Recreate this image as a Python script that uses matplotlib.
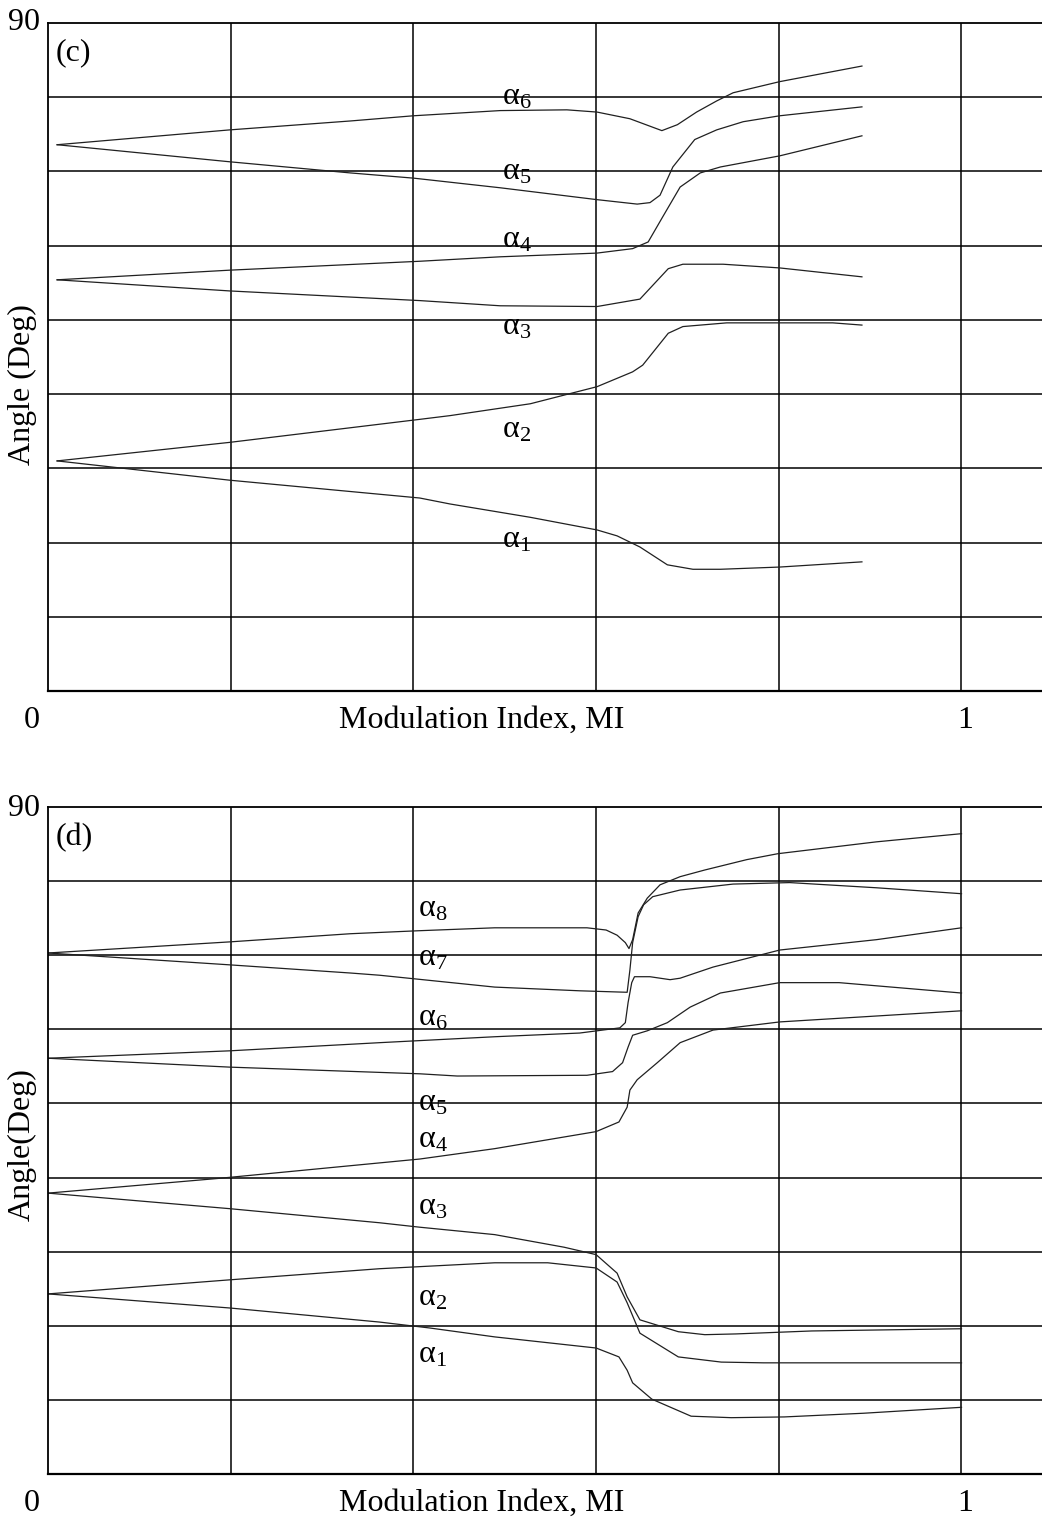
import matplotlib
matplotlib.use("Agg")
import matplotlib.pyplot as plt

plt.rcParams['font.family'] = ['Liberation Serif', 'DejaVu Serif']
plt.rcParams['mathtext.fontset'] = 'custom'
plt.rcParams['mathtext.rm'] = 'Liberation Serif'
plt.rcParams['mathtext.it'] = 'Liberation Serif'

# ---- panel (c): six switching angles vs modulation index ----
c_a6_x = [0.010, 0.199, 0.331, 0.400, 0.495, 0.568, 0.601, 0.637, 0.672, 0.689, 0.710, 0.732, 0.750, 0.801, 0.891]
c_a6_y = [73.6, 75.6, 76.8, 77.5, 78.2, 78.3, 78.0, 77.1, 75.5, 76.3, 78.0, 79.5, 80.6, 82.1, 84.2]
c_a5_x = [0.010, 0.199, 0.331, 0.400, 0.495, 0.601, 0.645, 0.659, 0.670, 0.684, 0.708, 0.732, 0.761, 0.801, 0.891]
c_a5_y = [73.6, 71.3, 69.8, 69.1, 67.8, 66.2, 65.6, 65.8, 66.8, 70.6, 74.3, 75.6, 76.7, 77.5, 78.7]
c_a4_x = [0.010, 0.199, 0.407, 0.495, 0.601, 0.640, 0.657, 0.673, 0.692, 0.714, 0.736, 0.801, 0.891]
c_a4_y = [55.4, 56.7, 57.9, 58.5, 59.0, 59.6, 60.5, 63.9, 67.9, 69.8, 70.6, 72.1, 74.8]
c_a3_x = [0.010, 0.199, 0.407, 0.495, 0.601, 0.648, 0.679, 0.695, 0.739, 0.801, 0.891]
c_a3_y = [55.4, 53.9, 52.6, 51.9, 51.8, 52.8, 56.9, 57.5, 57.5, 57.0, 55.8]
c_a2_x = [0.010, 0.199, 0.407, 0.440, 0.528, 0.601, 0.640, 0.651, 0.679, 0.695, 0.743, 0.859, 0.891]
c_a2_y = [31.0, 33.5, 36.6, 37.1, 38.7, 41.0, 43.0, 43.9, 48.2, 49.1, 49.6, 49.6, 49.3]
c_a1_x = [0.010, 0.199, 0.407, 0.440, 0.528, 0.601, 0.623, 0.648, 0.678, 0.706, 0.736, 0.801, 0.891]
c_a1_y = [31.0, 28.4, 26.0, 25.2, 23.4, 21.7, 20.9, 19.4, 17.0, 16.4, 16.4, 16.7, 17.4]

c_labels = ['6', '5', '4', '3', '2', '1']
c_label_y = [79.0, 68.9, 59.7, 48.0, 34.1, 19.4]

# ---- panel (d): eight switching angles vs modulation index ----
d_a8_x = [0.0, 0.199, 0.331, 0.405, 0.489, 0.590, 0.611, 0.623, 0.632, 0.636, 0.640, 0.646, 0.656, 0.670, 0.692, 0.719, 0.765, 0.799, 0.907, 1.0]
d_a8_y = [70.3, 71.8, 72.9, 73.3, 73.7, 73.7, 73.4, 72.7, 71.7, 70.9, 72.1, 75.7, 77.7, 79.5, 80.6, 81.5, 82.9, 83.7, 85.3, 86.4]
d_a7_x = [0.0, 0.199, 0.331, 0.363, 0.489, 0.582, 0.634, 0.637, 0.640, 0.646, 0.652, 0.662, 0.692, 0.750, 0.812, 0.907, 1.0]
d_a7_y = [70.3, 68.7, 67.6, 67.3, 65.7, 65.2, 65.0, 68.0, 71.7, 75.2, 76.8, 77.9, 78.8, 79.6, 79.8, 79.1, 78.3]
d_a6_x = [0.0, 0.199, 0.363, 0.489, 0.582, 0.626, 0.632, 0.635, 0.639, 0.642, 0.659, 0.681, 0.692, 0.728, 0.801, 0.907, 1.0]
d_a6_y = [56.1, 57.1, 58.2, 59.0, 59.5, 60.2, 60.9, 63.6, 66.3, 67.1, 67.1, 66.7, 66.9, 68.4, 70.7, 72.1, 73.7]
d_a5_x = [0.0, 0.199, 0.407, 0.448, 0.590, 0.618, 0.629, 0.635, 0.640, 0.656, 0.678, 0.703, 0.736, 0.801, 0.866, 1.0]
d_a5_y = [56.1, 54.9, 54.0, 53.7, 53.8, 54.3, 55.5, 57.6, 59.2, 59.8, 60.9, 63.0, 64.9, 66.3, 66.3, 64.9]
d_a4_x = [0.0, 0.188, 0.407, 0.489, 0.600, 0.625, 0.634, 0.637, 0.645, 0.667, 0.692, 0.728, 0.801, 1.0]
d_a4_y = [37.9, 39.9, 42.5, 43.9, 46.2, 47.5, 49.5, 51.8, 53.2, 55.5, 58.2, 59.9, 61.0, 62.5]
d_a3_x = [0.0, 0.199, 0.363, 0.407, 0.489, 0.565, 0.600, 0.623, 0.634, 0.648, 0.690, 0.719, 0.753, 0.836, 1.0]
d_a3_y = [37.9, 35.8, 33.9, 33.3, 32.3, 30.6, 29.6, 27.1, 23.9, 20.8, 19.2, 18.8, 18.9, 19.3, 19.6]
d_a2_x = [0.0, 0.199, 0.363, 0.489, 0.547, 0.600, 0.623, 0.634, 0.648, 0.690, 0.737, 0.783, 1.0]
d_a2_y = [24.3, 26.2, 27.7, 28.5, 28.5, 27.8, 25.9, 23.1, 19.0, 15.8, 15.1, 15.0, 15.0]
d_a1_x = [0.0, 0.199, 0.363, 0.418, 0.489, 0.600, 0.625, 0.634, 0.640, 0.661, 0.704, 0.748, 0.806, 0.893, 1.0]
d_a1_y = [24.3, 22.4, 20.5, 19.7, 18.5, 17.0, 15.8, 14.0, 12.3, 10.1, 7.8, 7.6, 7.7, 8.2, 9.0]

d_labels = ['8', '7', '6', '5', '4', '3', '2', '1']
d_label_y = [75.2, 68.6, 60.5, 49.0, 44.0, 35.0, 22.8, 15.0]

x_grid = [0.2, 0.4, 0.6, 0.8, 1.0]
y_grid = [10, 20, 30, 40, 50, 60, 70, 80]

FS = 23
W, H = 1042, 1517
fig = plt.figure(figsize=(W / 100, H / 100), dpi=100)

left = 48 / W
ax_c = fig.add_axes([left, 1 - 691 / H, 1 - left, 668 / H])
ax_d = fig.add_axes([left, 1 - 1474 / H, 1 - left, 667 / H])


def setup(ax):
    ax.set_xlim(0, (W - 48) / 913.5)
    ax.set_ylim(0, 90)
    ax.set_xticks(x_grid)
    ax.set_yticks(y_grid)
    ax.tick_params(length=0, labelbottom=False, labelleft=False)
    ax.grid(True, color='black', linewidth=1.1)
    ax.spines['right'].set_visible(False)
    ax.spines['left'].set_linewidth(1.3)
    ax.spines['top'].set_linewidth(1.3)
    ax.spines['bottom'].set_linewidth(1.6)
    ax.set_axisbelow(True)
    # tick numbers and x-axis title sit on one row below the axis
    tr = ax.get_xaxis_transform()
    ax.text(-0.018, -0.044, '0', transform=tr, ha='center', va='center', fontsize=FS)
    ax.text(1.004, -0.044, '1', transform=tr, ha='center', va='center', fontsize=FS)
    ax.text(0.475, -0.044, 'Modulation Index, MI', transform=tr,
            ha='center', va='center', fontsize=FS)


setup(ax_c)
setup(ax_d)

lw = 0.9
col = '#202020'
for xs, ys in [(c_a6_x, c_a6_y), (c_a5_x, c_a5_y), (c_a4_x, c_a4_y),
               (c_a3_x, c_a3_y), (c_a2_x, c_a2_y), (c_a1_x, c_a1_y)]:
    ax_c.plot(xs, ys, color=col, linewidth=lw)
for xs, ys in [(d_a8_x, d_a8_y), (d_a7_x, d_a7_y), (d_a6_x, d_a6_y), (d_a5_x, d_a5_y),
               (d_a4_x, d_a4_y), (d_a3_x, d_a3_y), (d_a2_x, d_a2_y), (d_a1_x, d_a1_y)]:
    ax_d.plot(xs, ys, color=col, linewidth=lw)

for lab, yv in zip(c_labels, c_label_y):
    ax_c.text(0.497, yv, r'$\mathrm{\alpha}_{%s}$' % lab, fontsize=FS, ha='left', va='baseline')
for lab, yv in zip(d_labels, d_label_y):
    ax_d.text(0.405, yv, r'$\mathrm{\alpha}_{%s}$' % lab, fontsize=FS, ha='left', va='baseline')

ax_c.text(0.008, 85.0, '(c)', fontsize=FS, ha='left', va='baseline')
ax_d.text(0.008, 84.9, '(d)', fontsize=FS, ha='left', va='baseline')

fig.text(40 / W, 1 - 23 / H, '90', fontsize=FS, ha='right', va='center')
fig.text(40 / W, 1 - 808 / H, '90', fontsize=FS, ha='right', va='center')
fig.text(22 / W, 1 - 385 / H, 'Angle (Deg)', fontsize=FS, rotation=90, ha='center', va='center')
fig.text(22 / W, 1 - 1145 / H, 'Angle(Deg)', fontsize=FS, rotation=90, ha='center', va='center')

fig.savefig('out.png', dpi=100)
